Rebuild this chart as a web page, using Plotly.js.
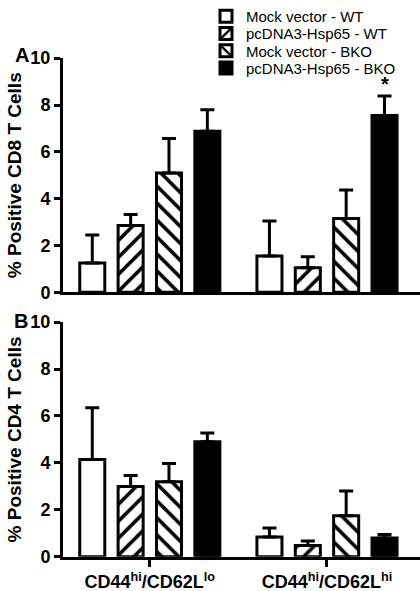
<!DOCTYPE html>
<html><head><meta charset="utf-8">
<script src="https://cdn.plot.ly/plotly-3.0.1.min.js"></script>
<style>html,body{margin:0;padding:0;background:#fff}</style>
</head><body><div id="chart" style="width:420px;height:591px"></div>
<script>
// ---- data ----
const groups = ["CD44<sup>hi</sup>/CD62L<sup>lo</sup>", "CD44<sup>hi</sup>/CD62L<sup>hi</sup>"];
const seriesNames = ["Mock vector - WT", "pcDNA3-Hsp65 - WT", "Mock vector - BKO", "pcDNA3-Hsp65 - BKO"];

// Panel A: % positive CD8 T cells
const cd8MockWT = [1.25, 1.55];   const cd8MockWTErr = [1.2, 1.5];
const cd8HspWT = [2.85, 1.05];    const cd8HspWTErr = [0.48, 0.47];
const cd8MockBKO = [5.1, 3.15];   const cd8MockBKOErr = [1.47, 1.22];
const cd8HspBKO = [6.88, 7.55];   const cd8HspBKOErr = [0.92, 0.83];

// Panel B: % positive CD4 T cells
const cd4MockWT = [4.15, 0.85];   const cd4MockWTErr = [2.2, 0.38];
const cd4HspWT = [3.0, 0.48];     const cd4HspWTErr = [0.47, 0.2];
const cd4MockBKO = [3.2, 1.75];   const cd4MockBKOErr = [0.78, 1.05];
const cd4HspBKO = [4.9, 0.8];     const cd4HspBKOErr = [0.38, 0.15];

const sigLabel = "*";

// ---- styling ----
const FONT = "Liberation Sans, Arial, Helvetica, sans-serif";
const styles = [
  {color: "#ffffff", pattern: {shape: ""}},
  {color: "#ffffff", pattern: {shape: "/", fgcolor: "#000000", bgcolor: "#ffffff", fgopacity: 1, size: 12, solidity: 0.3, fillmode: "replace"}},
  {color: "#ffffff", pattern: {shape: "\\", fgcolor: "#000000", bgcolor: "#ffffff", fgopacity: 1, size: 12, solidity: 0.3, fillmode: "replace"}},
  {color: "#000000", pattern: {shape: ""}}
];
const bargap = 0.134, bargroupgap = 0.347;
const legendIds = ["legend", "legend2", "legend3", "legend4"];
const legendRowY = [10.5, 28, 45.5, 63]; // px from top

function mk(vals, errs, i, xa, ya, showLegend) {
  return {
    type: "bar", x: groups, y: vals, name: seriesNames[i],
    xaxis: xa, yaxis: ya, legend: legendIds[i], legendgroup: "s" + i, showlegend: showLegend,
    marker: {color: styles[i].color, pattern: styles[i].pattern, line: {color: "#000", width: 3}},
    error_y: {type: "data", symmetric: false, array: errs, arrayminus: errs.map(() => 0),
              color: "#000", thickness: 3, width: 7},
    hoverinfo: "skip"
  };
}

const data = [
  mk(cd8MockWT, cd8MockWTErr, 0, "x", "y", true),
  mk(cd8HspWT, cd8HspWTErr, 1, "x", "y", true),
  mk(cd8MockBKO, cd8MockBKOErr, 2, "x", "y", true),
  mk(cd8HspBKO, cd8HspBKOErr, 3, "x", "y", true),
  mk(cd4MockWT, cd4MockWTErr, 0, "x2", "y2", false),
  mk(cd4HspWT, cd4HspWTErr, 1, "x2", "y2", false),
  mk(cd4MockBKO, cd4MockBKOErr, 2, "x2", "y2", false),
  mk(cd4HspBKO, cd4HspBKOErr, 3, "x2", "y2", false)
];

const tickFont = {family: FONT, size: 18, color: "#000", weight: "bold"};
function yax(domain, title) {
  return {
    domain: domain, range: [0, 10], tickvals: [0, 2, 4, 6, 8, 10],
    showgrid: false, zeroline: false, showline: true, linewidth: 3, linecolor: "#000",
    ticks: "outside", ticklen: 6, tickwidth: 3, tickcolor: "#000", tickfont: tickFont,
    automargin: false, fixedrange: true,
    title: {text: title, font: {family: FONT, size: 19, color: "#000", weight: "bold"}, standoff: 4}
  };
}
const xRange = [-0.49, 1.525];

// position of the 4th bar in group 2 for the significance marker
const slot = (1 - bargap) / 4;
const starX = 1 + (3 - 1.5) * slot;

const H = 591, L = 63, PW = 420 - L;
const layout = {
  width: 420, height: H,
  margin: {l: L, r: 0, t: 0, b: 0},
  paper_bgcolor: "#fff", plot_bgcolor: "#fff",
  barmode: "group", bargap: bargap, bargroupgap: bargroupgap,
  font: {family: FONT, color: "#000"},
  xaxis: {anchor: "y", domain: [0, 1], range: xRange, type: "category",
          showticklabels: false, ticks: "", showline: true, linewidth: 3, linecolor: "#000",
          showgrid: false, zeroline: false, automargin: false, fixedrange: true},
  yaxis: yax([0.5105, 0.9108], "% Positive CD8 T Cells"),
  xaxis2: {anchor: "y2", domain: [0, 1], range: xRange, type: "category",
           showticklabels: true, ticks: "outside", ticklen: 7, tickwidth: 3, tickcolor: "#000",
           tickfont: tickFont, showline: true, linewidth: 3, linecolor: "#000",
           showgrid: false, zeroline: false, automargin: false, fixedrange: true},
  yaxis2: yax([0.0584, 0.4597], "% Positive CD4 T Cells"),
  annotations: [
    {text: "A", xref: "paper", yref: "paper", x: (21.5 - L) / PW, y: 1 - 50 / H,
     xanchor: "center", yanchor: "middle", showarrow: false,
     font: {family: FONT, size: 20, color: "#000", weight: "bold"}},
    {text: "B", xref: "paper", yref: "paper", x: (21 - L) / PW, y: 1 - 318 / H,
     xanchor: "center", yanchor: "middle", showarrow: false,
     font: {family: FONT, size: 20, color: "#000", weight: "bold"}},
    {text: sigLabel, xref: "x", yref: "y", x: starX, y: cd8HspBKO[1] + cd8HspBKOErr[1],
     xanchor: "center", yanchor: "bottom", yshift: -1, showarrow: false,
     font: {family: FONT, size: 20, color: "#000", weight: "bold"}}
  ],
  showlegend: true
};
legendIds.forEach((id, i) => {
  layout[id] = {
    xref: "paper", yref: "paper", x: (206 - L) / PW, y: 1 - legendRowY[i] / H,
    xanchor: "left", yanchor: "middle", bgcolor: "rgba(0,0,0,0)", borderwidth: 0,
    font: {family: FONT, size: 15, color: "#000"}, tracegroupgap: 0,
    itemclick: false, itemdoubleclick: false
  };
});

Plotly.newPlot("chart", data, layout, {staticPlot: true, displayModeBar: false});
</script></body></html>
